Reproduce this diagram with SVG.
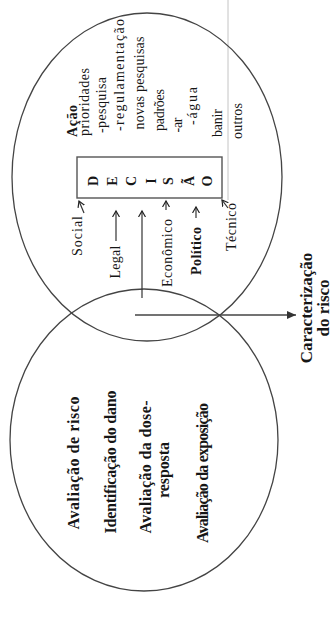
<svg xmlns="http://www.w3.org/2000/svg" width="334" height="628" viewBox="0 0 334 628">
<defs>
<style>
.el{fill:none;stroke:#444;stroke-width:1.3}
.t{font-family:"Liberation Serif","Times New Roman",serif;fill:#161616}
.b{font-weight:bold}
.s13{font-size:14px}
.s16{font-size:16px}
.s17{font-size:17px}
.ln{stroke:#333;stroke-width:1.2;fill:none}
.faint{stroke:#c4c4c4;stroke-width:1;fill:none}
</style>
<marker id="openHead" markerWidth="8" markerHeight="8" refX="6" refY="4" orient="auto" markerUnits="userSpaceOnUse">
<path d="M0,0.5 L6,4 L0,7.5" fill="none" stroke="#222" stroke-width="1.2"/>
</marker>
<marker id="solidHead" markerWidth="10" markerHeight="10" refX="9" refY="5" orient="auto" markerUnits="userSpaceOnUse">
<path d="M0,1 L9,5 L0,9 Z" fill="#333"/>
</marker>
</defs>
<rect width="334" height="628" fill="#ffffff"/>
<line class="faint" x1="228" y1="0" x2="228" y2="200"/>
<g id="node-decisao-ellipse">
<ellipse class="el" cx="147" cy="177" rx="135" ry="164"/>
</g>
<g id="node-avaliacao-ellipse">
<ellipse class="el" cx="144" cy="440" rx="134" ry="151"/>
</g>
<g id="node-acao">
<text class="t s13 b" transform="translate(77,121) rotate(-90)" text-anchor="middle" textLength="32">Ação</text>
<text class="t s13" transform="translate(89,102) rotate(-90)" text-anchor="middle" textLength="68">prioridades</text>
<text class="t s13" transform="translate(106,105) rotate(-90)" text-anchor="middle" textLength="56">-pesquisa</text>
<text class="t s13" transform="translate(124,75) rotate(-90)" text-anchor="middle" textLength="112">-regulamentação</text>
<text class="t s13" transform="translate(144,83) rotate(-90)" text-anchor="middle" textLength="93">novas pesquisas</text>
<text class="t s13" transform="translate(164,110) rotate(-90)" text-anchor="middle" textLength="42">padrões</text>
<text class="t s13" transform="translate(182,125) rotate(-90)" text-anchor="middle" textLength="15">-ar</text>
<text class="t s13" transform="translate(197,106) rotate(-90)" text-anchor="middle" textLength="38">-água</text>
<text class="t s13" transform="translate(222,123) rotate(-90)" text-anchor="middle" textLength="28">banir</text>
<text class="t s13" transform="translate(242,121) rotate(-90)" text-anchor="middle" textLength="36">outros</text>
</g>
<g id="node-decisao">
<rect x="77" y="157" width="145" height="41" fill="none" stroke="#555" stroke-width="1.4"/>
<text class="t s13 b" transform="translate(98,181) rotate(-90)" text-anchor="middle">D</text>
<text class="t s13 b" transform="translate(117,181) rotate(-90)" text-anchor="middle">E</text>
<text class="t s13 b" transform="translate(136,181) rotate(-90)" text-anchor="middle">C</text>
<text class="t s13 b" transform="translate(156,181) rotate(-90)" text-anchor="middle">I</text>
<text class="t s13 b" transform="translate(173,181) rotate(-90)" text-anchor="middle">S</text>
<text class="t s13 b" transform="translate(194,181) rotate(-90)" text-anchor="middle">Ã</text>
<text class="t s13 b" transform="translate(212,181) rotate(-90)" text-anchor="middle">O</text>
</g>
<g id="node-fatores">
<text class="t s13" transform="translate(82,236) rotate(-90)" text-anchor="middle" textLength="40">Social</text>
<text class="t s13" transform="translate(120,262) rotate(-90)" text-anchor="middle" textLength="33">Legal</text>
<text class="t s13" transform="translate(172,253) rotate(-90)" text-anchor="middle" textLength="68">Econômico</text>
<text class="t s13 b" transform="translate(201,251) rotate(-90)" text-anchor="middle" textLength="48">Político</text>
<text class="t s13" transform="translate(236,227) rotate(-90)" text-anchor="middle" textLength="48">Técnico</text>
</g>
<g id="node-avaliacao">
<text class="t s16 b" transform="translate(79,463) rotate(-90)" text-anchor="middle" textLength="133">Avaliação de risco</text>
<text class="t s16 b" transform="translate(116,462) rotate(-90)" text-anchor="middle" textLength="143">Identificação do dano</text>
<text class="t s16 b" transform="translate(151,467) rotate(-90)" text-anchor="middle" textLength="133">Avaliação da dose-</text>
<text class="t s16 b" transform="translate(169,470) rotate(-90)" text-anchor="middle" textLength="56">resposta</text>
<text class="t s16 b" transform="translate(208,473) rotate(-90)" text-anchor="middle" textLength="140">Avaliação da exposição</text>
</g>
<g id="node-caracterizacao">
<text class="t s17 b" transform="translate(312,308) rotate(-90)" text-anchor="middle">Caracterização</text>
<text class="t s17 b" transform="translate(329,308) rotate(-90)" text-anchor="middle">do risco</text>
</g>
<g id="connectors">
<line class="ln" x1="84" y1="213" x2="79" y2="201" marker-end="url(#openHead)"/>
<line class="ln" x1="116" y1="241" x2="116" y2="211" marker-end="url(#openHead)"/>
<line class="ln" x1="142" y1="298" x2="142" y2="211" marker-end="url(#openHead)"/>
<line class="ln" x1="166" y1="210" x2="166" y2="201" marker-end="url(#openHead)"/>
<line class="ln" x1="196" y1="218" x2="196" y2="207" marker-end="url(#openHead)"/>
<line class="ln" x1="228" y1="208" x2="222" y2="200" marker-end="url(#openHead)"/>
<line x1="135" y1="315" x2="296" y2="315" stroke="#444" stroke-width="1.5" marker-end="url(#solidHead)"/>
</g>
</svg>
